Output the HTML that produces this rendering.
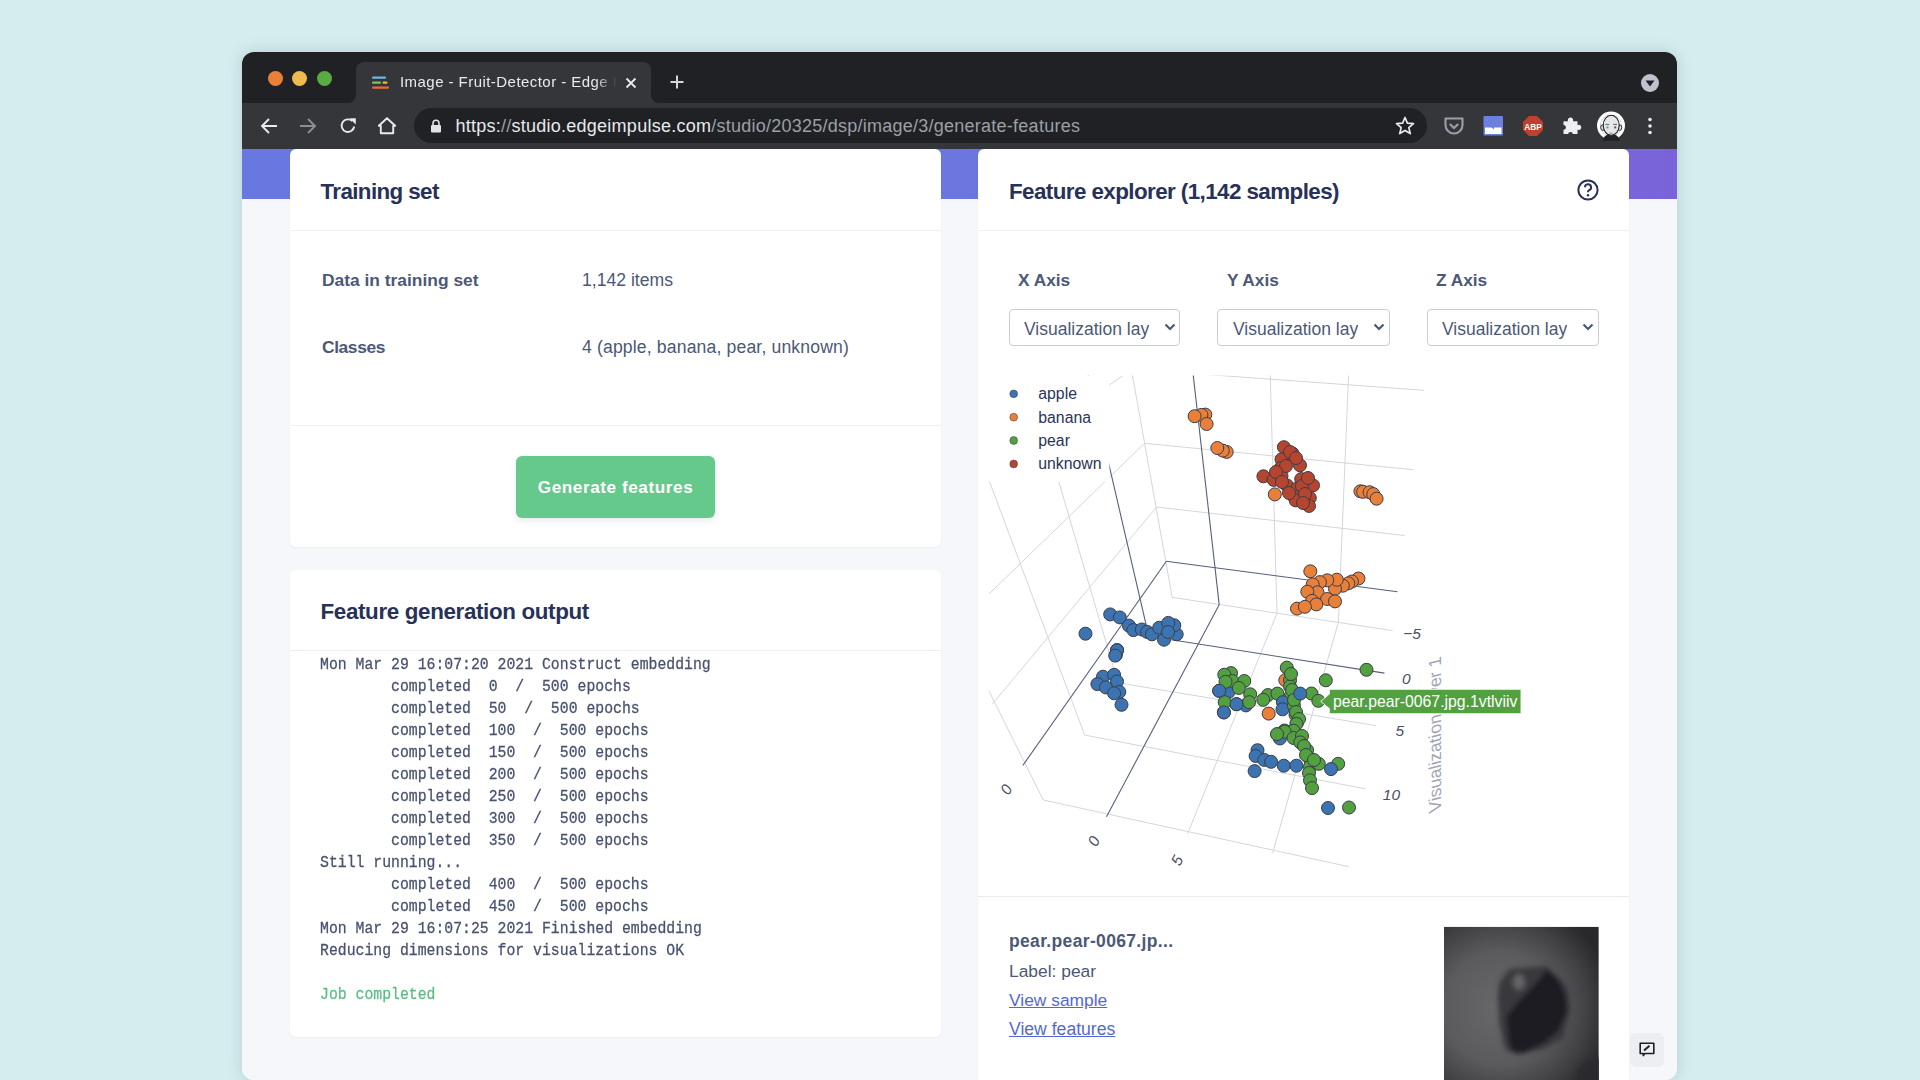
<!DOCTYPE html>
<html><head><meta charset="utf-8">
<style>
*{box-sizing:border-box;margin:0;padding:0}
html,body{width:1920px;height:1080px;overflow:hidden;background:#d6edef;font-family:"Liberation Sans",sans-serif}
.a{position:absolute;white-space:nowrap}
#win{position:absolute;left:242px;top:52px;width:1435px;height:1028px;border-radius:12px;overflow:hidden;background:#f6f7fb;box-shadow:0 0 16px rgba(60,100,110,0.22)}
.card{position:absolute;background:#fff;border-radius:6px;box-shadow:0 1px 2px rgba(40,50,90,0.05)}
.h{position:absolute;font-weight:bold;color:#283158;font-size:22.4px;white-space:nowrap;line-height:24px}
.sep{position:absolute;height:1px;background:#eceef4}
.lbl{position:absolute;font-weight:bold;color:#4c5877;font-size:17.4px;white-space:nowrap;line-height:20px}
.val{position:absolute;color:#4c5877;font-size:17.6px;white-space:nowrap;line-height:20px}
.mono{position:absolute;left:320px;font-family:"Liberation Mono",monospace;font-size:14.8px;line-height:20px;color:#48526f;-webkit-text-stroke:0.25px #48526f;white-space:pre;transform:scaleY(1.1);transform-origin:0 0}
svg{position:absolute;left:0;top:0;overflow:visible}
</style></head>
<body>
<div id="win">
  <!-- title bar -->
  <div class="a" style="left:0;top:0;width:1435px;height:51px;background:#202124"></div>
  <!-- toolbar -->
  <div class="a" style="left:0;top:51px;width:1435px;height:46px;background:#35363a"></div>
  <!-- tab -->
  <div class="a" style="left:114px;top:10px;width:295px;height:42px;background:#35363a;border-radius:8px 8px 0 0"></div>
  <div class="a" style="left:106px;top:43px;width:8px;height:8px;background:#35363a"><div class="a" style="left:0;top:0;width:8px;height:8px;background:#202124;border-radius:0 0 8px 0"></div></div>
  <div class="a" style="left:409px;top:43px;width:8px;height:8px;background:#35363a"><div class="a" style="left:0;top:0;width:8px;height:8px;background:#202124;border-radius:0 0 0 8px"></div></div>
  <!-- url pill -->
  <div class="a" style="left:172px;top:56px;width:1013px;height:35px;background:#202124;border-radius:18px"></div>
  <!-- content bg -->
  <div class="a" style="left:0;top:97px;width:1435px;height:931px;background:#f6f7fb"></div>
  <div class="a" style="left:0;top:97px;width:1435px;height:50px;background:linear-gradient(90deg,#6978e0 0%,#6b76de 50%,#7a63da 100%)"></div>
</div>

<!-- traffic lights -->
<div class="a" style="left:268px;top:71px;width:15px;height:15px;border-radius:50%;background:#ea7f3a"></div>
<div class="a" style="left:292px;top:71px;width:15px;height:15px;border-radius:50%;background:#edbb4e"></div>
<div class="a" style="left:317px;top:71px;width:15px;height:15px;border-radius:50%;background:#5aab41"></div>

<!-- tab content -->
<svg width="20" height="16" style="left:371px;top:75px" viewBox="0 0 20 16">
  <rect x="1" y="1.5" width="14" height="2.2" rx="1" fill="#6fb7e0"/>
  <rect x="1" y="6.5" width="9" height="2.2" rx="1" fill="#7cc25a"/>
  <rect x="11.5" y="6.5" width="5" height="2.2" rx="1" fill="#f0b23c"/>
  <rect x="1" y="11.5" width="17" height="2.2" rx="1" fill="#ef6a3a"/>
</svg>
<div class="a" style="left:400px;top:73px;font-size:15px;letter-spacing:0.45px;color:#e8eaed;line-height:18px;width:217px;overflow:hidden;-webkit-mask-image:linear-gradient(90deg,#000 90%,transparent)">Image - Fruit-Detector - Edge Impulse</div>
<svg width="12" height="12" style="left:625px;top:77px" viewBox="0 0 12 12"><path d="M1.5 1.5L10.5 10.5M10.5 1.5L1.5 10.5" stroke="#e8eaed" stroke-width="1.8"/></svg>
<svg width="16" height="16" style="left:669px;top:74px" viewBox="0 0 16 16"><path d="M8 1.5V14.5M1.5 8H14.5" stroke="#d2d5dd" stroke-width="2"/></svg>
<!-- dropdown circle -->
<div class="a" style="left:1641px;top:74px;width:18px;height:18px;border-radius:50%;background:#bfc2cc"></div>
<svg width="18" height="18" style="left:1641px;top:74px" viewBox="0 0 18 18"><path d="M4.5 6.5H13.5L9 12.5Z" fill="#202124"/></svg>

<!-- toolbar icons -->
<svg width="20" height="20" style="left:259px;top:115.5px" viewBox="0 0 20 20"><path d="M18 10H3.5M10 3L3 10L10 17" stroke="#e8eaed" stroke-width="1.9" fill="none"/></svg>
<svg width="20" height="20" style="left:298px;top:115.5px" viewBox="0 0 20 20"><path d="M2 10H16.5M10 3L17 10L10 17" stroke="#8b8e95" stroke-width="1.9" fill="none"/></svg>
<svg width="20" height="20" style="left:338px;top:115.5px" viewBox="0 0 20 20"><path d="M16.2 10.5A6.3 6.3 0 1 1 14.3 5.1" stroke="#e8eaed" stroke-width="1.9" fill="none"/><path d="M11.5 2.3H17.8V8.6Z" fill="#e8eaed"/></svg>
<svg width="20" height="20" style="left:376.5px;top:116px" viewBox="0 0 20 20"><path d="M3.8 17.2V9.8H1.8L10 2.2L18.2 9.8H16.2V17.2Z" stroke="#e8eaed" stroke-width="1.9" fill="none" stroke-linejoin="round"/></svg>
<svg width="12" height="14" style="left:430px;top:119px" viewBox="0 0 12 14"><path d="M3 6V4.2A3 3 0 0 1 9 4.2V6" stroke="#e0e2e6" stroke-width="1.6" fill="none"/><rect x="1" y="6" width="10" height="7.5" rx="1" fill="#e0e2e6"/></svg>
<div class="a" style="left:455.5px;top:116px;font-size:18px;letter-spacing:0.25px;line-height:20px;color:#9aa0a6"><span style="color:#e8eaed">https:</span>//<span style="color:#e8eaed">studio.edgeimpulse.com</span>/studio/20325/dsp/image/3/generate-features</div>
<svg width="22" height="22" style="left:1394px;top:115px" viewBox="0 0 22 22"><path d="M11 2.5L13.4 8.2L19.5 8.7L14.8 12.6L16.3 18.6L11 15.4L5.7 18.6L7.2 12.6L2.5 8.7L8.6 8.2Z" stroke="#e8eaed" stroke-width="1.7" fill="none" stroke-linejoin="round"/></svg>
<svg width="22" height="22" style="left:1443px;top:115px" viewBox="0 0 22 22"><path d="M2.5 3.5H19.5V10A8.5 8.5 0 0 1 2.5 10Z" stroke="#9aa0ab" stroke-width="2.1" fill="none" stroke-linejoin="round"/><path d="M6.8 9L11 13L15.2 9" stroke="#9aa0ab" stroke-width="2.1" fill="none"/></svg>
<svg width="22" height="22" style="left:1482px;top:115px" viewBox="0 0 22 22"><rect x="1.5" y="1" width="19.5" height="19.5" rx="1" fill="#6c80e2"/><path d="M3 12.5H9.5L12 14.5V12.5H19.5V19H3Z" fill="#fff"/></svg>
<svg width="22" height="22" style="left:1521.5px;top:114.5px" viewBox="0 0 22 22"><path d="M7 1H15L21 7V15L15 21H7L1 15V7Z" fill="#c0402f"/><text x="11" y="14.5" font-family="Liberation Sans" font-weight="bold" font-size="8.3" fill="#fff" text-anchor="middle">ABP</text></svg>
<svg width="1920" height="1080" viewBox="0 0 1920 1080" style="left:0;top:0"><g fill="#eeeff2"><rect x="1563.5" y="121.3" width="14" height="12.7"/><circle cx="1570.5" cy="120.2" r="2.6"/><circle cx="1578.6" cy="127.3" r="2.6"/></g><g fill="#35363a"><circle cx="1563.6" cy="127.4" r="2.3"/><circle cx="1570.5" cy="134.3" r="2.4"/></g></svg>
<svg width="1920" height="1080" viewBox="0 0 1920 1080" style="left:0;top:0">
<circle cx="1611" cy="125.6" r="12.3" fill="none" stroke="#fff" stroke-width="3.4"/>
<circle cx="1611" cy="125.6" r="10.6" fill="#fff"/>
<ellipse cx="1602.9" cy="127.6" rx="2.2" ry="2.8" fill="#dfe0e4" stroke="#1f1f22" stroke-width="0.9"/>
<ellipse cx="1619.6" cy="127.6" rx="2.2" ry="2.8" fill="#dfe0e4" stroke="#1f1f22" stroke-width="0.9"/>

<ellipse cx="1611.2" cy="125.3" rx="8" ry="10" fill="#e6e7eb" stroke="#1f1f22" stroke-width="1.1"/>
<path d="M1605.3 124.4H1609.2M1613.2 124.4H1617" stroke="#555" stroke-width="0.9"/>
<rect x="1606.5" y="126.4" width="2" height="2" fill="#2c2"/><rect x="1614.2" y="126.4" width="2" height="2" fill="#456"/>
<path d="M1609.5 133.2H1612.8" stroke="#777" stroke-width="0.8"/>
<path d="M1602.8 140.8C1603.5 137 1605.5 135.2 1608 134.6L1611.2 135.6L1614.4 134.6C1617 135.2 1619 137 1619.6 140.8Z" fill="#202226"/>
</svg>
<svg width="6" height="18" style="left:1647px;top:117px" viewBox="0 0 6 18"><circle cx="3" cy="2.5" r="1.8" fill="#e8eaed"/><circle cx="3" cy="9" r="1.8" fill="#e8eaed"/><circle cx="3" cy="15.5" r="1.8" fill="#e8eaed"/></svg>

<!-- card 1 -->
<div class="card" style="left:290px;top:149px;width:651px;height:398px"></div>
<div class="h" style="left:320.5px;top:179.5px;letter-spacing:-0.62px">Training set</div>
<div class="sep" style="left:290px;top:230px;width:651px"></div>
<div class="lbl" style="left:322px;top:270px">Data in training set</div>
<div class="val" style="left:582px;top:270px">1,142 items</div>
<div class="lbl" style="left:322px;top:337px;letter-spacing:-0.4px">Classes</div>
<div class="val" style="left:582px;top:337px;letter-spacing:0.15px">4 (apple, banana, pear, unknown)</div>
<div class="sep" style="left:290px;top:425px;width:651px"></div>

<!-- card 2 -->
<div class="card" style="left:290px;top:570px;width:651px;height:467px"></div>
<div class="h" style="left:320.5px;top:599.5px;letter-spacing:-0.36px">Feature generation output</div>
<div class="sep" style="left:290px;top:650px;width:651px"></div>

<!-- card 3 -->
<div class="card" style="left:978px;top:149px;width:651px;height:960px"></div>
<div class="h" style="left:1009px;top:179.5px;letter-spacing:-0.58px">Feature explorer (1,142 samples)</div>
<div class="sep" style="left:978px;top:230px;width:651px"></div>


<!-- card 1 button -->
<div class="a" style="left:516px;top:456px;width:199px;height:62px;border-radius:6px;background:#66c98c;box-shadow:0 3px 6px rgba(40,60,80,0.10)"></div>
<div class="a" style="left:516px;top:456px;width:199px;height:62px;line-height:62px;text-align:center;color:#fff;font-weight:bold;font-size:17.2px;letter-spacing:0.55px">Generate features</div>

<!-- card 2 log -->
<div class="mono" style="top:653.50px">Mon Mar 29 16:07:20 2021 Construct embedding</div>
<div class="mono" style="top:675.55px">        completed  0  /  500 epochs</div>
<div class="mono" style="top:697.60px">        completed  50  /  500 epochs</div>
<div class="mono" style="top:719.65px">        completed  100  /  500 epochs</div>
<div class="mono" style="top:741.70px">        completed  150  /  500 epochs</div>
<div class="mono" style="top:763.75px">        completed  200  /  500 epochs</div>
<div class="mono" style="top:785.80px">        completed  250  /  500 epochs</div>
<div class="mono" style="top:807.85px">        completed  300  /  500 epochs</div>
<div class="mono" style="top:829.90px">        completed  350  /  500 epochs</div>
<div class="mono" style="top:851.95px">Still running...</div>
<div class="mono" style="top:874.00px">        completed  400  /  500 epochs</div>
<div class="mono" style="top:896.05px">        completed  450  /  500 epochs</div>
<div class="mono" style="top:918.10px">Mon Mar 29 16:07:25 2021 Finished embedding</div>
<div class="mono" style="top:940.15px">Reducing dimensions for visualizations OK</div>
<div class="mono" style="top:984.25px;color:#5cbc84;-webkit-text-stroke-color:#5cbc84">Job completed</div>

<!-- card 3 header help icon -->
<svg width="24" height="24" style="left:1576px;top:178px" viewBox="0 0 24 24"><circle cx="12" cy="12" r="9.6" stroke="#283158" stroke-width="2" fill="none"/><path d="M8.9 9.3A3.1 3.1 0 1 1 12.9 12.3C12.2 12.6 12 13 12 13.8V14.3" stroke="#283158" stroke-width="2" fill="none"/><circle cx="12" cy="17.3" r="1.2" fill="#283158"/></svg>

<!-- axis labels and selects -->
<div class="lbl" style="left:1018px;top:270px;font-size:17.3px">X Axis</div>
<div class="lbl" style="left:1227px;top:270px;font-size:17.3px">Y Axis</div>
<div class="lbl" style="left:1436px;top:270px;font-size:17.3px">Z Axis</div>
<div class="a" style="left:1009px;top:309px;width:171px;height:37px;border:1px solid #c9cdd8;border-radius:4px;background:#fff"></div>
<div class="a" style="left:1217px;top:309px;width:173px;height:37px;border:1px solid #c9cdd8;border-radius:4px;background:#fff"></div>
<div class="a" style="left:1427px;top:309px;width:172px;height:37px;border:1px solid #c9cdd8;border-radius:4px;background:#fff"></div>
<div class="val" style="left:1024px;top:319px;width:125px;overflow:hidden;font-size:17.5px">Visualization layer 1</div>
<div class="val" style="left:1233px;top:319px;width:125px;overflow:hidden;font-size:17.5px">Visualization layer 1</div>
<div class="val" style="left:1442px;top:319px;width:125px;overflow:hidden;font-size:17.5px">Visualization layer 1</div>
<svg width="12" height="10" style="left:1164px;top:322px" viewBox="0 0 12 10"><path d="M1.5 2.5L6 7L10.5 2.5" stroke="#4c5877" stroke-width="2.2" fill="none"/></svg>
<svg width="12" height="10" style="left:1373px;top:322px" viewBox="0 0 12 10"><path d="M1.5 2.5L6 7L10.5 2.5" stroke="#4c5877" stroke-width="2.2" fill="none"/></svg>
<svg width="12" height="10" style="left:1582px;top:322px" viewBox="0 0 12 10"><path d="M1.5 2.5L6 7L10.5 2.5" stroke="#4c5877" stroke-width="2.2" fill="none"/></svg>

<!-- PLOT -->
<div id="plot"><svg width="1920" height="1080" style="left:0;top:0" viewBox="0 0 1920 1080">
<defs><clipPath id="pc"><rect x="989" y="375.5" width="560" height="515"/></clipPath></defs>
<g clip-path="url(#pc)" stroke-linecap="butt">
<line x1="1132.0" y1="369.1" x2="1423.9" y2="390.3" stroke="#d3d6df" stroke-width="1"/>
<line x1="1144.5" y1="443.3" x2="1413" y2="469.7" stroke="#d3d6df" stroke-width="1"/>
<line x1="1156.6" y1="507" x2="1404.6" y2="535.5" stroke="#d3d6df" stroke-width="1"/>
<line x1="1172.2" y1="597.4" x2="1392.6" y2="630.6" stroke="#d3d6df" stroke-width="1"/>
<line x1="1129.7" y1="360" x2="1172.2" y2="597.4" stroke="#d3d6df" stroke-width="1"/>
<line x1="1269.8" y1="360" x2="1277" y2="613.3" stroke="#d3d6df" stroke-width="1"/>
<line x1="1349.2" y1="360" x2="1338.4" y2="622.1" stroke="#d3d6df" stroke-width="1"/>
<line x1="1118" y1="682.8" x2="1375.7" y2="725.6" stroke="#d3d6df" stroke-width="1"/>
<line x1="1084.7" y1="735.1" x2="1365.9" y2="788.9" stroke="#d3d6df" stroke-width="1"/>
<line x1="1043.3" y1="800" x2="1348.9" y2="866.7" stroke="#d3d6df" stroke-width="1"/>
<line x1="1277" y1="613.3" x2="1187.4" y2="834.1" stroke="#d3d6df" stroke-width="1"/>
<line x1="1338.4" y1="622.1" x2="1272.6" y2="853.3" stroke="#d3d6df" stroke-width="1"/>
<line x1="940" y1="350" x2="1084.7" y2="735.1" stroke="#d3d6df" stroke-width="1"/>
<line x1="1020" y1="350" x2="1118" y2="682.8" stroke="#d3d6df" stroke-width="1"/>
<line x1="960" y1="633" x2="1043.3" y2="800" stroke="#d3d6df" stroke-width="1"/>
<line x1="1144.5" y1="443.3" x2="960" y2="622" stroke="#d3d6df" stroke-width="1"/>
<line x1="1156.6" y1="507" x2="992.1" y2="704.4" stroke="#d3d6df" stroke-width="1"/>
<line x1="1122.2" y1="376.1" x2="980" y2="475" stroke="#d3d6df" stroke-width="1"/>
<line x1="1166.2" y1="561.2" x2="1397.4" y2="591.8" stroke="#566079" stroke-width="1.1"/>
<line x1="1191.5" y1="360" x2="1219.2" y2="604.6" stroke="#566079" stroke-width="1.1"/>
<line x1="1148.8" y1="636.3" x2="1384.4" y2="673.1" stroke="#566079" stroke-width="1.1"/>
<line x1="1219.3" y1="604.4" x2="1106.5" y2="816.8" stroke="#566079" stroke-width="1.1"/>
<line x1="1087" y1="370" x2="1148.8" y2="636.3" stroke="#566079" stroke-width="1.1"/>
<line x1="1166.4" y1="561.3" x2="1022.8" y2="765.5" stroke="#566079" stroke-width="1.1"/>
<rect x="985" y="370" width="124.4" height="111.7" fill="#fff"/>
<circle cx="1085.5" cy="633.7" r="6.5" fill="#3b74b0" stroke="#3d3d4a" stroke-width="1"/>
<circle cx="1110.2" cy="614.4" r="6.5" fill="#3b74b0" stroke="#3d3d4a" stroke-width="1"/>
<circle cx="1119.8" cy="617.4" r="6.5" fill="#3b74b0" stroke="#3d3d4a" stroke-width="1"/>
<circle cx="1128.9" cy="625.6" r="6.5" fill="#3b74b0" stroke="#3d3d4a" stroke-width="1"/>
<circle cx="1133.4" cy="630.1" r="6.5" fill="#3b74b0" stroke="#3d3d4a" stroke-width="1"/>
<circle cx="1141.8" cy="629.5" r="6.5" fill="#3b74b0" stroke="#3d3d4a" stroke-width="1"/>
<circle cx="1147.2" cy="631.9" r="6.5" fill="#3b74b0" stroke="#3d3d4a" stroke-width="1"/>
<circle cx="1152" cy="634.3" r="6.5" fill="#3b74b0" stroke="#3d3d4a" stroke-width="1"/>
<circle cx="1159.2" cy="627.7" r="6.5" fill="#3b74b0" stroke="#3d3d4a" stroke-width="1"/>
<circle cx="1164" cy="639.7" r="6.5" fill="#3b74b0" stroke="#3d3d4a" stroke-width="1"/>
<circle cx="1176.7" cy="634.3" r="6.5" fill="#3b74b0" stroke="#3d3d4a" stroke-width="1"/>
<circle cx="1174.3" cy="625.3" r="6.5" fill="#3b74b0" stroke="#3d3d4a" stroke-width="1"/>
<circle cx="1168.3" cy="622.9" r="6.5" fill="#3b74b0" stroke="#3d3d4a" stroke-width="1"/>
<circle cx="1117.1" cy="650" r="6.5" fill="#3b74b0" stroke="#3d3d4a" stroke-width="1"/>
<circle cx="1115.9" cy="654.8" r="6.5" fill="#3b74b0" stroke="#3d3d4a" stroke-width="1"/>
<circle cx="1168" cy="632" r="6.5" fill="#3b74b0" stroke="#3d3d4a" stroke-width="1"/>
<circle cx="1117" cy="650.4" r="6.5" fill="#3b74b0" stroke="#3d3d4a" stroke-width="1"/>
<circle cx="1115.2" cy="655.6" r="6.5" fill="#3b74b0" stroke="#3d3d4a" stroke-width="1"/>
<circle cx="1103" cy="676.7" r="6.5" fill="#3b74b0" stroke="#3d3d4a" stroke-width="1"/>
<circle cx="1114.1" cy="674.8" r="6.5" fill="#3b74b0" stroke="#3d3d4a" stroke-width="1"/>
<circle cx="1117" cy="681.5" r="6.5" fill="#3b74b0" stroke="#3d3d4a" stroke-width="1"/>
<circle cx="1097.4" cy="684.1" r="6.5" fill="#3b74b0" stroke="#3d3d4a" stroke-width="1"/>
<circle cx="1105.9" cy="687.4" r="6.5" fill="#3b74b0" stroke="#3d3d4a" stroke-width="1"/>
<circle cx="1119.3" cy="691.9" r="6.5" fill="#3b74b0" stroke="#3d3d4a" stroke-width="1"/>
<circle cx="1114.1" cy="693.3" r="6.5" fill="#3b74b0" stroke="#3d3d4a" stroke-width="1"/>
<circle cx="1121.5" cy="704.8" r="6.5" fill="#3b74b0" stroke="#3d3d4a" stroke-width="1"/>
<circle cx="1205.3" cy="414.6" r="6.5" fill="#e8803a" stroke="#3d3d4a" stroke-width="1"/>
<circle cx="1201.4" cy="414.9" r="6.5" fill="#e8803a" stroke="#3d3d4a" stroke-width="1"/>
<circle cx="1194.6" cy="416.2" r="6.5" fill="#e8803a" stroke="#3d3d4a" stroke-width="1"/>
<circle cx="1206.6" cy="424" r="6.5" fill="#e8803a" stroke="#3d3d4a" stroke-width="1"/>
<circle cx="1226.7" cy="451.9" r="6.5" fill="#e8803a" stroke="#3d3d4a" stroke-width="1"/>
<circle cx="1222.8" cy="450.6" r="6.5" fill="#e8803a" stroke="#3d3d4a" stroke-width="1"/>
<circle cx="1217.3" cy="448" r="6.5" fill="#e8803a" stroke="#3d3d4a" stroke-width="1"/>
<circle cx="1292.5" cy="453.5" r="6.5" fill="#b5452f" stroke="#3d3d4a" stroke-width="1"/>
<circle cx="1283.9" cy="447.2" r="6.5" fill="#b5452f" stroke="#3d3d4a" stroke-width="1"/>
<circle cx="1287.8" cy="458.6" r="6.5" fill="#b5452f" stroke="#3d3d4a" stroke-width="1"/>
<circle cx="1281.5" cy="459.4" r="6.5" fill="#b5452f" stroke="#3d3d4a" stroke-width="1"/>
<circle cx="1300" cy="465.3" r="6.5" fill="#b5452f" stroke="#3d3d4a" stroke-width="1"/>
<circle cx="1280.7" cy="468.1" r="6.5" fill="#b5452f" stroke="#3d3d4a" stroke-width="1"/>
<circle cx="1281.5" cy="476" r="6.5" fill="#b5452f" stroke="#3d3d4a" stroke-width="1"/>
<circle cx="1263.4" cy="476.3" r="6.5" fill="#b5452f" stroke="#3d3d4a" stroke-width="1"/>
<circle cx="1273.6" cy="479.9" r="6.5" fill="#b5452f" stroke="#3d3d4a" stroke-width="1"/>
<circle cx="1301.2" cy="479.1" r="6.5" fill="#b5452f" stroke="#3d3d4a" stroke-width="1"/>
<circle cx="1287" cy="485.4" r="6.5" fill="#b5452f" stroke="#3d3d4a" stroke-width="1"/>
<circle cx="1297.2" cy="488.5" r="6.5" fill="#b5452f" stroke="#3d3d4a" stroke-width="1"/>
<circle cx="1294" cy="496.4" r="6.5" fill="#b5452f" stroke="#3d3d4a" stroke-width="1"/>
<circle cx="1295.7" cy="500.4" r="6.5" fill="#b5452f" stroke="#3d3d4a" stroke-width="1"/>
<circle cx="1313" cy="485.4" r="6.5" fill="#b5452f" stroke="#3d3d4a" stroke-width="1"/>
<circle cx="1309.8" cy="498" r="6.5" fill="#b5452f" stroke="#3d3d4a" stroke-width="1"/>
<circle cx="1309" cy="505.9" r="6.5" fill="#b5452f" stroke="#3d3d4a" stroke-width="1"/>
<circle cx="1290" cy="452" r="6.5" fill="#b5452f" stroke="#3d3d4a" stroke-width="1"/>
<circle cx="1296" cy="458" r="6.5" fill="#b5452f" stroke="#3d3d4a" stroke-width="1"/>
<circle cx="1286" cy="466" r="6.5" fill="#b5452f" stroke="#3d3d4a" stroke-width="1"/>
<circle cx="1276" cy="472" r="6.5" fill="#b5452f" stroke="#3d3d4a" stroke-width="1"/>
<circle cx="1282" cy="482" r="6.5" fill="#b5452f" stroke="#3d3d4a" stroke-width="1"/>
<circle cx="1302" cy="486" r="6.5" fill="#b5452f" stroke="#3d3d4a" stroke-width="1"/>
<circle cx="1305" cy="494" r="6.5" fill="#b5452f" stroke="#3d3d4a" stroke-width="1"/>
<circle cx="1308" cy="478" r="6.5" fill="#b5452f" stroke="#3d3d4a" stroke-width="1"/>
<circle cx="1303" cy="503" r="6.5" fill="#b5452f" stroke="#3d3d4a" stroke-width="1"/>
<circle cx="1289" cy="493" r="6.5" fill="#b5452f" stroke="#3d3d4a" stroke-width="1"/>
<circle cx="1274.8" cy="494.4" r="6.5" fill="#e8803a" stroke="#3d3d4a" stroke-width="1"/>
<circle cx="1360.4" cy="491.3" r="6.5" fill="#e8803a" stroke="#3d3d4a" stroke-width="1"/>
<circle cx="1363.1" cy="491.8" r="6.5" fill="#e8803a" stroke="#3d3d4a" stroke-width="1"/>
<circle cx="1369.6" cy="492.2" r="6.5" fill="#e8803a" stroke="#3d3d4a" stroke-width="1"/>
<circle cx="1373.3" cy="494.1" r="6.5" fill="#e8803a" stroke="#3d3d4a" stroke-width="1"/>
<circle cx="1376.6" cy="498.7" r="6.5" fill="#e8803a" stroke="#3d3d4a" stroke-width="1"/>
<circle cx="1310.3" cy="571.3" r="6.5" fill="#e8803a" stroke="#3d3d4a" stroke-width="1"/>
<circle cx="1358.5" cy="578.5" r="6.5" fill="#e8803a" stroke="#3d3d4a" stroke-width="1"/>
<circle cx="1351.9" cy="581.5" r="6.5" fill="#e8803a" stroke="#3d3d4a" stroke-width="1"/>
<circle cx="1348.3" cy="583.3" r="6.5" fill="#e8803a" stroke="#3d3d4a" stroke-width="1"/>
<circle cx="1342.8" cy="585.7" r="6.5" fill="#e8803a" stroke="#3d3d4a" stroke-width="1"/>
<circle cx="1335" cy="588.7" r="6.5" fill="#e8803a" stroke="#3d3d4a" stroke-width="1"/>
<circle cx="1336.8" cy="579.7" r="6.5" fill="#e8803a" stroke="#3d3d4a" stroke-width="1"/>
<circle cx="1327.2" cy="580.3" r="6.5" fill="#e8803a" stroke="#3d3d4a" stroke-width="1"/>
<circle cx="1319.9" cy="582.1" r="6.5" fill="#e8803a" stroke="#3d3d4a" stroke-width="1"/>
<circle cx="1312.7" cy="584.5" r="6.5" fill="#e8803a" stroke="#3d3d4a" stroke-width="1"/>
<circle cx="1317.5" cy="592.3" r="6.5" fill="#e8803a" stroke="#3d3d4a" stroke-width="1"/>
<circle cx="1307.3" cy="591.7" r="6.5" fill="#e8803a" stroke="#3d3d4a" stroke-width="1"/>
<circle cx="1312.1" cy="600.8" r="6.5" fill="#e8803a" stroke="#3d3d4a" stroke-width="1"/>
<circle cx="1327.2" cy="599" r="6.5" fill="#e8803a" stroke="#3d3d4a" stroke-width="1"/>
<circle cx="1316.3" cy="604.4" r="6.5" fill="#e8803a" stroke="#3d3d4a" stroke-width="1"/>
<circle cx="1297" cy="608.6" r="6.5" fill="#e8803a" stroke="#3d3d4a" stroke-width="1"/>
<circle cx="1304.9" cy="606.8" r="6.5" fill="#e8803a" stroke="#3d3d4a" stroke-width="1"/>
<circle cx="1335" cy="601.4" r="6.5" fill="#e8803a" stroke="#3d3d4a" stroke-width="1"/>
<circle cx="1219.2" cy="690.8" r="6.5" fill="#3b74b0" stroke="#3d3d4a" stroke-width="1"/>
<circle cx="1228.6" cy="692" r="6.5" fill="#3b74b0" stroke="#3d3d4a" stroke-width="1"/>
<circle cx="1223.9" cy="712.4" r="6.5" fill="#3b74b0" stroke="#3d3d4a" stroke-width="1"/>
<circle cx="1236.5" cy="704.2" r="6.5" fill="#3b74b0" stroke="#3d3d4a" stroke-width="1"/>
<circle cx="1245.9" cy="705.4" r="6.5" fill="#3b74b0" stroke="#3d3d4a" stroke-width="1"/>
<circle cx="1231" cy="673.1" r="6.5" fill="#52a03f" stroke="#3d3d4a" stroke-width="1"/>
<circle cx="1224.3" cy="674.7" r="6.5" fill="#52a03f" stroke="#3d3d4a" stroke-width="1"/>
<circle cx="1232.5" cy="681" r="6.5" fill="#52a03f" stroke="#3d3d4a" stroke-width="1"/>
<circle cx="1225.5" cy="681.8" r="6.5" fill="#52a03f" stroke="#3d3d4a" stroke-width="1"/>
<circle cx="1244.3" cy="681" r="6.5" fill="#52a03f" stroke="#3d3d4a" stroke-width="1"/>
<circle cx="1238.8" cy="688" r="6.5" fill="#52a03f" stroke="#3d3d4a" stroke-width="1"/>
<circle cx="1250.2" cy="694.3" r="6.5" fill="#52a03f" stroke="#3d3d4a" stroke-width="1"/>
<circle cx="1249.1" cy="702.2" r="6.5" fill="#52a03f" stroke="#3d3d4a" stroke-width="1"/>
<circle cx="1224.7" cy="702.2" r="6.5" fill="#52a03f" stroke="#3d3d4a" stroke-width="1"/>
<circle cx="1267.9" cy="695.1" r="6.5" fill="#52a03f" stroke="#3d3d4a" stroke-width="1"/>
<circle cx="1263.2" cy="699.8" r="6.5" fill="#52a03f" stroke="#3d3d4a" stroke-width="1"/>
<circle cx="1277.4" cy="693.6" r="6.5" fill="#52a03f" stroke="#3d3d4a" stroke-width="1"/>
<circle cx="1219.2" cy="690.8" r="6.5" fill="#3b74b0" stroke="#3d3d4a" stroke-width="1"/>
<circle cx="1236.5" cy="704.2" r="6.5" fill="#3b74b0" stroke="#3d3d4a" stroke-width="1"/>
<circle cx="1223.9" cy="712.4" r="6.5" fill="#3b74b0" stroke="#3d3d4a" stroke-width="1"/>
<circle cx="1285.3" cy="680.2" r="6.5" fill="#e8803a" stroke="#3d3d4a" stroke-width="1"/>
<circle cx="1286.8" cy="667.6" r="6.5" fill="#52a03f" stroke="#3d3d4a" stroke-width="1"/>
<circle cx="1290" cy="680.2" r="6.5" fill="#52a03f" stroke="#3d3d4a" stroke-width="1"/>
<circle cx="1290" cy="686.5" r="6.5" fill="#52a03f" stroke="#3d3d4a" stroke-width="1"/>
<circle cx="1290.8" cy="695.9" r="6.5" fill="#52a03f" stroke="#3d3d4a" stroke-width="1"/>
<circle cx="1282.9" cy="702.2" r="6.5" fill="#3b74b0" stroke="#3d3d4a" stroke-width="1"/>
<circle cx="1282.5" cy="709.3" r="6.5" fill="#3b74b0" stroke="#3d3d4a" stroke-width="1"/>
<circle cx="1268.7" cy="713.6" r="6.5" fill="#e8803a" stroke="#3d3d4a" stroke-width="1"/>
<circle cx="1293.9" cy="705.4" r="6.5" fill="#52a03f" stroke="#3d3d4a" stroke-width="1"/>
<circle cx="1295.5" cy="714.8" r="6.5" fill="#52a03f" stroke="#3d3d4a" stroke-width="1"/>
<circle cx="1297" cy="722.7" r="6.5" fill="#52a03f" stroke="#3d3d4a" stroke-width="1"/>
<circle cx="1284.5" cy="730.5" r="6.5" fill="#52a03f" stroke="#3d3d4a" stroke-width="1"/>
<circle cx="1277.4" cy="734.5" r="6.5" fill="#52a03f" stroke="#3d3d4a" stroke-width="1"/>
<circle cx="1325.8" cy="680.3" r="6.5" fill="#52a03f" stroke="#3d3d4a" stroke-width="1"/>
<circle cx="1311.4" cy="693.5" r="6.5" fill="#52a03f" stroke="#3d3d4a" stroke-width="1"/>
<circle cx="1318.3" cy="700.8" r="6.5" fill="#52a03f" stroke="#3d3d4a" stroke-width="1"/>
<circle cx="1366.5" cy="669.8" r="6.5" fill="#52a03f" stroke="#3d3d4a" stroke-width="1"/>
<circle cx="1279.9" cy="738.5" r="6.5" fill="#3b74b0" stroke="#3d3d4a" stroke-width="1"/>
<circle cx="1297.4" cy="736.5" r="6.5" fill="#b5452f" stroke="#3d3d4a" stroke-width="1"/>
<circle cx="1291" cy="674" r="6.5" fill="#52a03f" stroke="#3d3d4a" stroke-width="1"/>
<circle cx="1292" cy="690" r="6.5" fill="#52a03f" stroke="#3d3d4a" stroke-width="1"/>
<circle cx="1294" cy="700" r="6.5" fill="#52a03f" stroke="#3d3d4a" stroke-width="1"/>
<circle cx="1296" cy="712" r="6.5" fill="#52a03f" stroke="#3d3d4a" stroke-width="1"/>
<circle cx="1299" cy="719" r="6.5" fill="#52a03f" stroke="#3d3d4a" stroke-width="1"/>
<circle cx="1296.4" cy="723.9" r="6.5" fill="#52a03f" stroke="#3d3d4a" stroke-width="1"/>
<circle cx="1293.5" cy="730.7" r="6.5" fill="#52a03f" stroke="#3d3d4a" stroke-width="1"/>
<circle cx="1284.7" cy="731.7" r="6.5" fill="#52a03f" stroke="#3d3d4a" stroke-width="1"/>
<circle cx="1277" cy="734.1" r="6.5" fill="#52a03f" stroke="#3d3d4a" stroke-width="1"/>
<circle cx="1293.5" cy="738" r="6.5" fill="#52a03f" stroke="#3d3d4a" stroke-width="1"/>
<circle cx="1302" cy="736" r="6.5" fill="#52a03f" stroke="#3d3d4a" stroke-width="1"/>
<circle cx="1300.3" cy="742.4" r="6.5" fill="#52a03f" stroke="#3d3d4a" stroke-width="1"/>
<circle cx="1307.1" cy="750.2" r="6.5" fill="#52a03f" stroke="#3d3d4a" stroke-width="1"/>
<circle cx="1310" cy="758.9" r="6.5" fill="#52a03f" stroke="#3d3d4a" stroke-width="1"/>
<circle cx="1257.5" cy="750.2" r="6.5" fill="#3b74b0" stroke="#3d3d4a" stroke-width="1"/>
<circle cx="1255.6" cy="756" r="6.5" fill="#3b74b0" stroke="#3d3d4a" stroke-width="1"/>
<circle cx="1264.3" cy="759.9" r="6.5" fill="#3b74b0" stroke="#3d3d4a" stroke-width="1"/>
<circle cx="1271.1" cy="761.8" r="6.5" fill="#3b74b0" stroke="#3d3d4a" stroke-width="1"/>
<circle cx="1283.8" cy="765.7" r="6.5" fill="#3b74b0" stroke="#3d3d4a" stroke-width="1"/>
<circle cx="1296.4" cy="765.7" r="6.5" fill="#3b74b0" stroke="#3d3d4a" stroke-width="1"/>
<circle cx="1254.6" cy="771.1" r="6.5" fill="#3b74b0" stroke="#3d3d4a" stroke-width="1"/>
<circle cx="1300.2" cy="693.6" r="6.5" fill="#3b74b0" stroke="#3d3d4a" stroke-width="1"/>
<circle cx="1304" cy="746" r="6.5" fill="#52a03f" stroke="#3d3d4a" stroke-width="1"/>
<circle cx="1306" cy="755" r="6.5" fill="#52a03f" stroke="#3d3d4a" stroke-width="1"/>
<circle cx="1310" cy="766.7" r="6.5" fill="#52a03f" stroke="#3d3d4a" stroke-width="1"/>
<circle cx="1318.8" cy="763.8" r="6.5" fill="#52a03f" stroke="#3d3d4a" stroke-width="1"/>
<circle cx="1309" cy="773" r="6.5" fill="#52a03f" stroke="#3d3d4a" stroke-width="1"/>
<circle cx="1310" cy="780.3" r="6.5" fill="#52a03f" stroke="#3d3d4a" stroke-width="1"/>
<circle cx="1312" cy="788.1" r="6.5" fill="#52a03f" stroke="#3d3d4a" stroke-width="1"/>
<circle cx="1338.2" cy="763.8" r="6.5" fill="#52a03f" stroke="#3d3d4a" stroke-width="1"/>
<circle cx="1314" cy="760" r="6.5" fill="#52a03f" stroke="#3d3d4a" stroke-width="1"/>
<circle cx="1331" cy="769.1" r="6.5" fill="#3b74b0" stroke="#3d3d4a" stroke-width="1"/>
<circle cx="1328" cy="808" r="6.5" fill="#3b74b0" stroke="#3d3d4a" stroke-width="1"/>
<circle cx="1349" cy="807.5" r="6.5" fill="#52a03f" stroke="#3d3d4a" stroke-width="1"/>
</g>
<circle cx="1013.7" cy="393.8" r="3.9" fill="#3b74b0" stroke="#3d3d4a" stroke-width="0.5"/>
<text x="1038.3" y="399.1" font-family="Liberation Sans" font-size="15.8" fill="#2c3458">apple</text>
<circle cx="1013.7" cy="417.2" r="3.9" fill="#e8803a" stroke="#3d3d4a" stroke-width="0.5"/>
<text x="1038.3" y="422.5" font-family="Liberation Sans" font-size="15.8" fill="#2c3458">banana</text>
<circle cx="1013.7" cy="440.5" r="3.9" fill="#52a03f" stroke="#3d3d4a" stroke-width="0.5"/>
<text x="1038.3" y="445.8" font-family="Liberation Sans" font-size="15.8" fill="#2c3458">pear</text>
<circle cx="1013.7" cy="463.9" r="3.9" fill="#b5452f" stroke="#3d3d4a" stroke-width="0.5"/>
<text x="1038.3" y="469.2" font-family="Liberation Sans" font-size="15.8" fill="#2c3458">unknown</text>
<text x="1412" y="633.5" font-family="Liberation Sans" font-size="15.5" font-style="italic" fill="#4a5066" text-anchor="middle" dominant-baseline="central">−5</text>
<text x="1406.4" y="678" font-family="Liberation Sans" font-size="15.5" font-style="italic" fill="#4a5066" text-anchor="middle" dominant-baseline="central">0</text>
<text x="1399.7" y="730.5" font-family="Liberation Sans" font-size="15.5" font-style="italic" fill="#4a5066" text-anchor="middle" dominant-baseline="central">5</text>
<text x="1391.4" y="794.9" font-family="Liberation Sans" font-size="15.5" font-style="italic" fill="#4a5066" text-anchor="middle" dominant-baseline="central">10</text>
<text x="1093.7" y="841" font-family="Liberation Sans" font-size="15.5" font-style="italic" fill="#4a5066" text-anchor="middle" dominant-baseline="central" transform="rotate(-62 1093.7 841)">0</text>
<text x="1176.8" y="860.3" font-family="Liberation Sans" font-size="15.5" font-style="italic" fill="#4a5066" text-anchor="middle" dominant-baseline="central" transform="rotate(-62 1176.8 860.3)">5</text>
<text x="1006.2" y="789.3" font-family="Liberation Sans" font-size="15.5" font-style="italic" fill="#4a5066" text-anchor="middle" dominant-baseline="central" transform="rotate(-58 1006.2 789.3)">0</text>
<text x="0" y="0" font-family="Liberation Sans" font-size="17.5" fill="#9fa5b7" text-anchor="middle" dominant-baseline="central" transform="translate(1435 734.8) rotate(-90) skewX(14)">Visualization layer 1</text>
<path d="M1329.4 689.3H1521V713.7H1329.4V708.6L1320.7 701.4L1329.4 694.1Z" fill="#52a03f" stroke="#eaf5e6" stroke-width="1"/>
<text x="1333" y="706.8" font-family="Liberation Sans" font-size="15.8" fill="#fff">pear.pear-0067.jpg.1vtlviiv</text>
</svg></div>

<!-- bottom info -->
<div class="sep" style="left:978px;top:896px;width:651px;background:#e9ebf3"></div>
<div class="lbl" style="left:1009px;top:931px;font-size:17.5px;letter-spacing:0.34px">pear.pear-0067.jp...</div>
<div class="val" style="left:1009px;top:961px;font-size:17.4px">Label: pear</div>
<div class="val" style="left:1009px;top:990px;font-size:17.4px;color:#5468d4;text-decoration:underline">View sample</div>
<div class="val" style="left:1009px;top:1019px;font-size:17.6px;color:#5468d4;text-decoration:underline">View features</div>
<svg width="1920" height="1080" viewBox="0 0 1920 1080" style="left:0;top:0">
<defs>
<radialGradient id="ig" cx="1500" cy="1008" r="112" gradientUnits="userSpaceOnUse"><stop offset="0" stop-color="#68686a"/><stop offset="0.5" stop-color="#5b5b5d"/><stop offset="0.78" stop-color="#414144"/><stop offset="1" stop-color="#29292c"/></radialGradient>
<filter id="bl" x="-20%" y="-20%" width="140%" height="140%"><feGaussianBlur stdDeviation="2.5"/></filter>
<clipPath id="ic"><rect x="1444" y="926.7" width="154.8" height="153.3"/></clipPath>
</defs>
<g clip-path="url(#ic)">
<rect x="1444" y="926.7" width="154.8" height="153.3" fill="url(#ig)"/>
<g filter="url(#bl)">
<path d="M1499.3 982.2L1509.6 968.9L1546.7 965.9L1567.4 986.7L1570.4 1008.9L1563 1038.5L1543.7 1048.9L1517 1054.8L1505.2 1048.9L1499.3 1023.7L1497.8 997Z" fill="#39393c"/>
<path d="M1546.7 968.9L1558.5 979.3L1565.9 997L1567.4 1011.9L1558.5 1031.1L1543.7 1043L1523 1053.3L1511.1 1050.4L1508.1 1035.6L1506.7 1016.3L1517 1003L1528.9 991.1L1540.7 977.8Z" fill="#1f1f22"/>
<ellipse cx="1519" cy="982" rx="6" ry="8" fill="#646466"/>
<ellipse cx="1598" cy="1080" rx="22" ry="22" fill="#2b2b2e"/>
</g>
</g>
</svg>

<!-- feedback button -->
<div class="a" style="left:1630px;top:1033px;width:34px;height:34px;border-radius:6px;background:#eceef3"></div>
<svg width="16" height="16" style="left:1639px;top:1042px" viewBox="0 0 16 16"><path d="M1.2 1.2H14.8V11.5H6L4.3 13.6V11.5H1.2Z" stroke="#1d1f26" stroke-width="1.6" fill="none" stroke-linejoin="round"/><path d="M5 8.5L10.5 3.8" stroke="#1d1f26" stroke-width="2"/></svg>

</body></html>
